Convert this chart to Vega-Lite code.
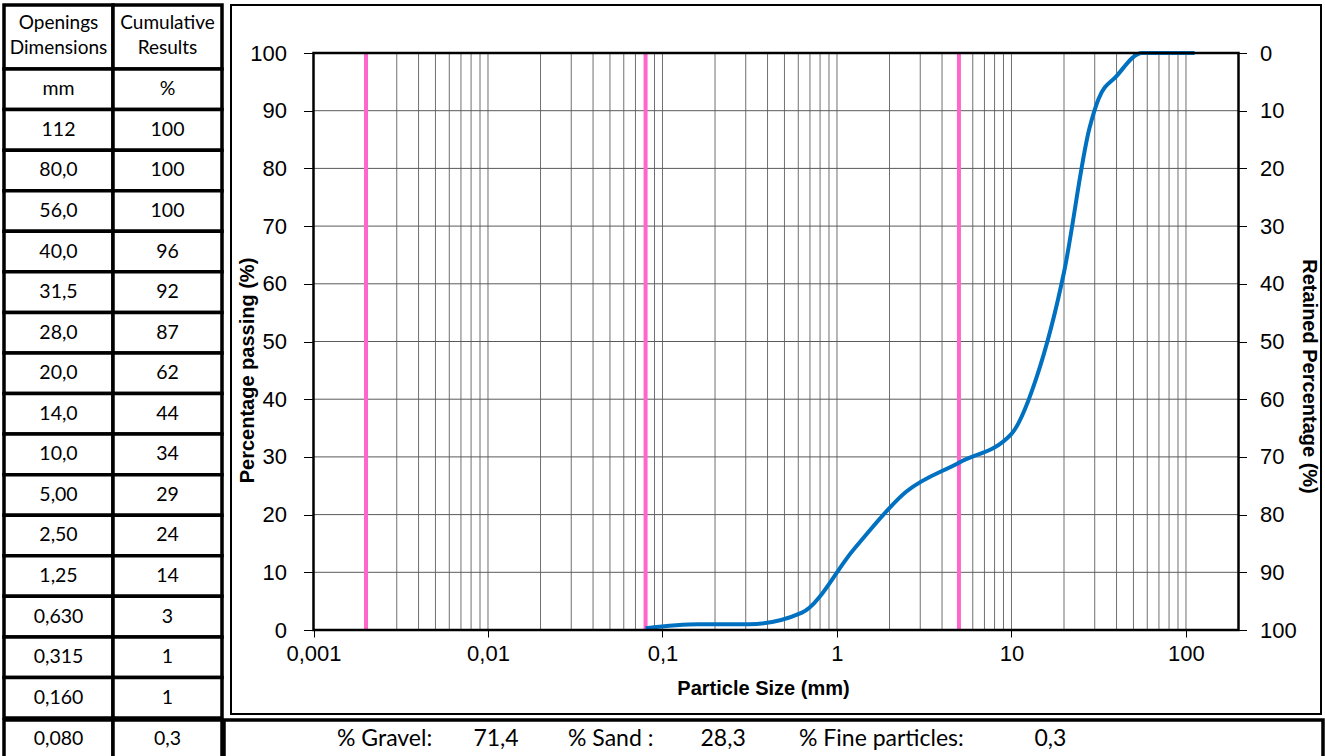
{
  "$schema": "https://vega.github.io/schema/vega-lite/v6.json",
  "padding": {"left": 2, "top": 3, "right": 0, "bottom": 0},
  "spacing": -3,
  "config": {
    "font": "Liberation Sans",
    "view": {"stroke": null},
    "axis": {"labelColor": "black", "titleColor": "black", "tickColor": "black", "grid": false, "domain": false, "labelFont": "Liberation Sans", "titleFont": "Liberation Sans"}
  },
  "datasets": {
    "sieve": [
      {"dim": "mm", "res": "%"},
      {"dim": "112", "res": "100", "size": 112, "pass": 100},
      {"dim": "80,0", "res": "100", "size": 80, "pass": 100},
      {"dim": "56,0", "res": "100", "size": 56, "pass": 100},
      {"dim": "40,0", "res": "96", "size": 40, "pass": 96},
      {"dim": "31,5", "res": "92", "size": 31.5, "pass": 92},
      {"dim": "28,0", "res": "87", "size": 28, "pass": 87},
      {"dim": "20,0", "res": "62", "size": 20, "pass": 62},
      {"dim": "14,0", "res": "44", "size": 14, "pass": 44},
      {"dim": "10,0", "res": "34", "size": 10, "pass": 34},
      {"dim": "5,00", "res": "29", "size": 5, "pass": 29},
      {"dim": "2,50", "res": "24", "size": 2.5, "pass": 24},
      {"dim": "1,25", "res": "14", "size": 1.25, "pass": 14},
      {"dim": "0,630", "res": "3", "size": 0.63, "pass": 3},
      {"dim": "0,315", "res": "1", "size": 0.315, "pass": 1},
      {"dim": "0,160", "res": "1", "size": 0.16, "pass": 1},
      {"dim": "0,080", "res": "0,3", "size": 0.08, "pass": 0.3}
    ],
    "vgrid": [
      {"x": 0.002}, {"x": 0.003}, {"x": 0.004}, {"x": 0.005}, {"x": 0.006}, {"x": 0.007}, {"x": 0.008}, {"x": 0.009},
      {"x": 0.01}, {"x": 0.02}, {"x": 0.03}, {"x": 0.04}, {"x": 0.05}, {"x": 0.06}, {"x": 0.07}, {"x": 0.08}, {"x": 0.09},
      {"x": 0.1}, {"x": 0.2}, {"x": 0.3}, {"x": 0.4}, {"x": 0.5}, {"x": 0.6}, {"x": 0.7}, {"x": 0.8}, {"x": 0.9},
      {"x": 1}, {"x": 2}, {"x": 3}, {"x": 4}, {"x": 5}, {"x": 6}, {"x": 7}, {"x": 8}, {"x": 9},
      {"x": 10}, {"x": 20}, {"x": 30}, {"x": 40}, {"x": 50}, {"x": 60}, {"x": 70}, {"x": 80}, {"x": 90},
      {"x": 100}
    ],
    "hgrid": [
      {"y": 10}, {"y": 20}, {"y": 30}, {"y": 40}, {"y": 50}, {"y": 60}, {"y": 70}, {"y": 80}, {"y": 90}
    ],
    "limits": [
      {"x": 0.002, "limit": "clay/silt"},
      {"x": 0.08, "limit": "fines/sand"},
      {"x": 5, "limit": "sand/gravel"}
    ],
    "summary": [
      {"g": "Gravel", "t": "% Gravel:\u00a0\u00a0\u00a0\u00a0\u00a0\u00a0\u00a071,4"},
      {"g": "Sand", "t": "% Sand :\u00a0\u00a0\u00a0\u00a0\u00a0\u00a0\u00a0\u00a028,3"},
      {"g": "Fine", "t": "% Fine particles:\u00a0\u00a0\u00a0\u00a0\u00a0\u00a0\u00a0\u00a0\u00a0\u00a0\u00a0\u00a00,3"}
    ]
  },
  "vconcat": [
    {
      "spacing": 6,
      "hconcat": [
        {
          "spacing": 0,
          "bounds": "flush",
          "vconcat": [
            {
              "width": 218,
              "height": 64,
              "data": {"values": [{"col": "dim", "t": "Openings\nDimensions"}, {"col": "res", "t": "Cumulative\nResults"}]},
              "encoding": {
                "x": {"field": "col", "type": "nominal", "sort": ["dim", "res"], "scale": {"paddingInner": 0, "paddingOuter": 0}, "axis": null}
              },
              "layer": [
                {"mark": {"type": "rect", "fill": "white", "stroke": "black", "strokeWidth": 3.5}},
                {"mark": {"type": "text", "font": "Lato", "fontSize": 19, "lineBreak": "\n", "lineHeight": 25, "dy": -14, "color": "black"}, "encoding": {"text": {"field": "t"}}}
              ]
            },
            {
              "width": 218,
              "height": 649,
              "data": {"name": "sieve"},
              "transform": [
                {"filter": "datum.dim != '0,080'"},
                {"fold": ["dim", "res"], "as": ["col", "t"]}
              ],
              "encoding": {
                "x": {"field": "col", "type": "nominal", "sort": ["dim", "res"], "scale": {"paddingInner": 0, "paddingOuter": 0}, "axis": null},
                "y": {"field": "dim", "type": "nominal", "sort": null, "scale": {"paddingInner": 0, "paddingOuter": 0}, "axis": null}
              },
              "layer": [
                {"mark": {"type": "rect", "fill": "white", "stroke": "black", "strokeWidth": 3.5}},
                {"mark": {"type": "text", "font": "Lato", "fontSize": 19.5, "color": "black"}, "encoding": {"text": {"field": "t"}}}
              ]
            }
          ]
        },
        {
          "width": 1090,
          "height": 709,
          "view": {"stroke": "black", "strokeWidth": 2},
          "resolve": {"axis": {"y": "independent"}},
          "layer": [
            {
              "data": {"name": "vgrid"},
              "mark": {"type": "rule", "color": "#707070", "strokeWidth": 1},
              "encoding": {
                "x": {"field": "x", "type": "quantitative",
                  "scale": {"type": "log", "domain": [0.001, 200], "range": [82.5, 1007.5], "nice": false},
                  "axis": {
                    "orient": "bottom", "offset": -84, "values": [0.001, 0.01, 0.1, 1, 10, 100],
                    "labelExpr": "replace(toString(datum.value), '.', ',')", "labelFontSize": 22, "labelPadding": 6,
                    "labelFlush": false, "labelOverlap": false, "tickSize": 7, "tickWidth": 1,
                    "title": "Particle Size (mm)", "titleFontSize": 20, "titleFontWeight": "bold", "titlePadding": 14, "titleX": 532
                  }},
                "y": {"datum": 0, "type": "quantitative", "scale": {"domain": [0, 100], "range": [625, 48], "nice": false, "zero": false}, "axis": null},
                "y2": {"datum": 100}
              }
            },
            {
              "data": {"name": "hgrid"},
              "mark": {"type": "rule", "color": "#5a5a5a", "strokeWidth": 1},
              "encoding": {
                "x": {"datum": 0.001, "type": "quantitative"},
                "x2": {"datum": 200},
                "y": {"field": "y", "type": "quantitative", "axis": {
                  "orient": "right", "offset": -82.5, "values": [0, 10, 20, 30, 40, 50, 60, 70, 80, 90, 100],
                  "labelExpr": "100 - datum.value", "labelFontSize": 22, "labelPadding": 13, "tickSize": 8, "tickWidth": 1,
                  "title": "Retained Percentage (%)", "titleFontSize": 20, "titleFontWeight": "bold", "titlePadding": 2, "titleY": 371
                }}
              }
            },
            {
              "data": {"name": "limits"},
              "mark": {"type": "rule", "color": "#FF66CC", "strokeWidth": 4},
              "encoding": {
                "x": {"field": "x", "type": "quantitative"},
                "y": {"datum": 0, "type": "quantitative", "axis": null},
                "y2": {"datum": 100}
              }
            },
            {
              "data": {"name": "sieve"},
              "transform": [{"filter": "isValid(datum.size)"}],
              "mark": {"type": "line", "interpolate": "monotone", "color": "#0070C0", "strokeWidth": 4},
              "encoding": {
                "x": {"field": "size", "type": "quantitative"},
                "y": {"field": "pass", "type": "quantitative", "axis": {
                  "orient": "left", "offset": -82.5, "values": [0, 10, 20, 30, 40, 50, 60, 70, 80, 90, 100],
                  "labelFontSize": 22, "labelPadding": 17, "tickSize": 10, "tickWidth": 1,
                  "title": "Percentage passing (%)", "titleFontSize": 20, "titleFontWeight": "bold", "titlePadding": -8, "titleY": 365
                }}
              }
            },
            {
              "data": {"values": [{}]},
              "mark": {"type": "rect", "filled": false, "stroke": "black", "strokeWidth": 2.5},
              "encoding": {
                "x": {"datum": 0.001, "type": "quantitative"},
                "x2": {"datum": 200},
                "y": {"datum": 0, "type": "quantitative", "axis": null},
                "y2": {"datum": 100}
              }
            }
          ]
        }
      ]
    },
    {
      "spacing": -3.5,
      "hconcat": [
        {
          "width": 218,
          "height": 38,
          "data": {"name": "sieve"},
          "transform": [
            {"filter": "datum.dim == '0,080'"},
            {"fold": ["dim", "res"], "as": ["col", "t"]}
          ],
          "encoding": {
            "x": {"field": "col", "type": "nominal", "sort": ["dim", "res"], "scale": {"paddingInner": 0, "paddingOuter": 0}, "axis": null}
          },
          "layer": [
            {"mark": {"type": "rect", "fill": "white", "stroke": "black", "strokeWidth": 3.5}},
            {"mark": {"type": "text", "font": "Lato", "fontSize": 19.5, "color": "black"}, "encoding": {"text": {"field": "t"}}}
          ]
        },
        {
          "width": 1099,
          "height": 38,
          "view": {"stroke": "black", "strokeWidth": 3.5},
          "data": {"name": "summary"},
          "mark": {"type": "text", "align": "left", "font": "Lato", "fontSize": 23, "color": "black"},
          "encoding": {
            "x": {"field": "g", "type": "nominal", "sort": null, "scale": {"type": "point", "range": [113, 575], "padding": 0}, "axis": null},
            "text": {"field": "t"}
          }
        }
      ]
    }
  ]
}
